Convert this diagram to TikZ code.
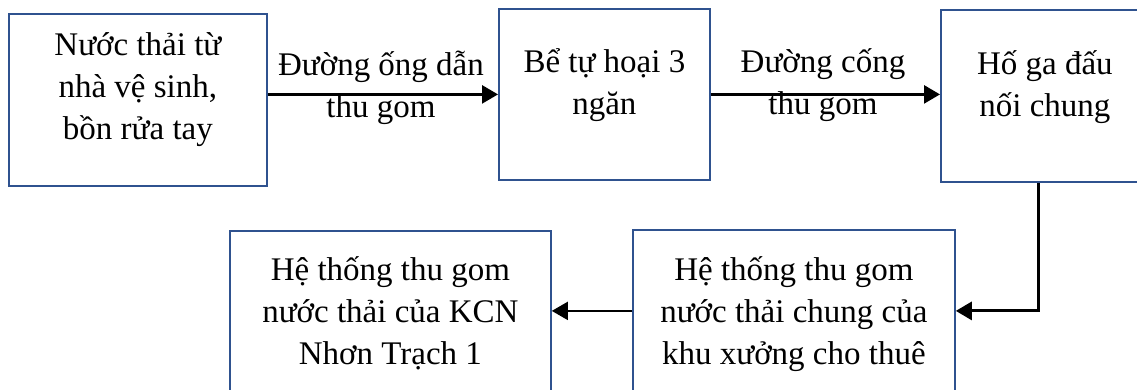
\documentclass[tikz,border=0pt]{standalone}
\usepackage{fontspec}
\setmainfont{Liberation Serif}
\usetikzlibrary{arrows.meta}
\definecolor{boxblue}{RGB}{47,82,143}
\newcommand{\bxt}[4]{\parbox[c][#2][t]{#1}{\centering\rule{0pt}{#3}#4}}
\newcommand{\lbt}[2]{\parbox[t]{#1}{\centering #2}}
\begin{document}
\begin{tikzpicture}[x=1pt,y=-1pt,
  box/.style={draw=boxblue, line width=1.8pt, inner sep=0pt, anchor=north west, font=\fontsize{33}{42}\selectfont},
  lbl/.style={inner sep=0pt, anchor=base, font=\fontsize{33}{42}\selectfont},
  tip/.style={-{Triangle[length=16pt 0 0,width=18pt 0 0]}},
  arr/.style={tip, line width=2.7pt},
  arrthin/.style={tip, line width=1.8pt}]
\useasboundingbox (0,0) rectangle (1137,389);
\clip (0,0) rectangle (1137,389);
\node[box] (b1) at (8,13) {\bxt{258pt}{172pt}{42pt}{Nước thải từ\\nhà vệ sinh,\\bồn rửa tay}};
\node[box] (b2) at (498,8) {\bxt{211pt}{171pt}{64pt}{Bể tự hoại 3\\ngăn}};
\node[box] (b3) at (940,9) {\bxt{208pt}{172pt}{65pt}{Hố ga đấu\\nối chung}};
\node[box] (b4) at (632,229) {\bxt{322pt}{162pt}{51pt}{Hệ thống thu gom\\nước thải chung của\\khu xưởng cho thuê}};
\node[box] (b5) at (229,230) {\bxt{321pt}{162pt}{50pt}{Hệ thống thu gom\\nước thải của KCN\\Nhơn Trạch 1}};
\node[lbl] (l1) at (381,75) {\lbt{240pt}{Đường ống dẫn\\thu gom}};
\node[lbl] (l2) at (823,72) {\lbt{220pt}{Đường cống\\thu gom}};
\draw[arr] (b1.east |- b2.west) -- (b2.west);
\draw[arr] (b2.east) -- (b2.east -| b3.west);
\coordinate (c3) at ([xshift=98pt]b3.south west);
\draw[arr, line width=3pt] (c3) |- (b4.east);
\draw[arrthin] (b4.west) -- (b4.west -| b5.east);
\end{tikzpicture}
\end{document}
